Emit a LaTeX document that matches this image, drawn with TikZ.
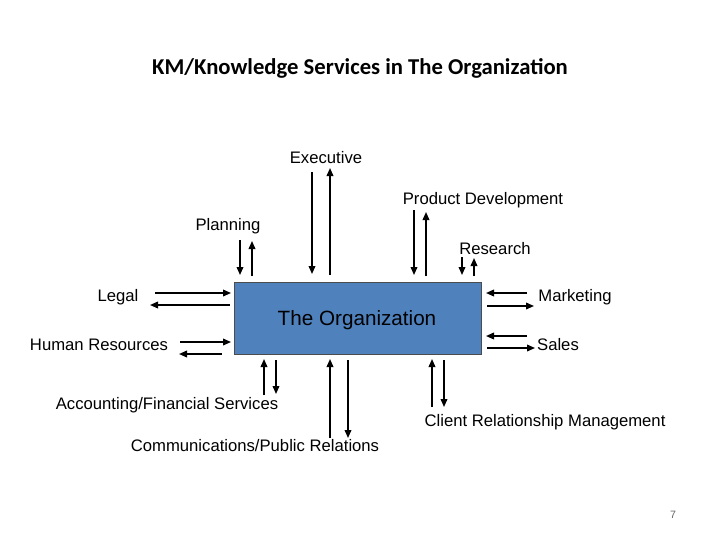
\documentclass[tikz,border=0pt]{standalone}
\usepackage{fontspec}
\setmainfont{Liberation Sans}
\newfontfamily\titlefont{Carlito}
\usetikzlibrary{arrows.meta}
\begin{document}
\begin{tikzpicture}[x=0.75pt,y=-0.75pt,
  lbl/.style={font=\fontsize{12.5}{14}\selectfont, inner sep=0pt},
  arr/.style={line width=1.1pt,-{Triangle[length=6pt,width=5pt]}}]
\useasboundingbox (0,0) rectangle (720,540);
\node[font=\titlefont\bfseries\fontsize{17}{20}\selectfont] (title) at (360,68) {KM/Knowledge Services in The Organization};
\node[draw=black!70,fill={rgb,255:red,79;green,129;blue,189},minimum width=247*0.75pt,minimum height=72*0.75pt,line width=0.8pt,anchor=north west] (org) at (234,282) {};
\node[font=\fontsize{15.5}{18}\selectfont] (orgt) at (357,320) {The Organization};
\node[lbl] (exe) at (326,158) {Executive};
\node[lbl] (pd) at (483,200) {Product Development};
\node[lbl] (pl) at (228,226) {Planning};
\node[lbl] (re) at (495,249) {Research};
\node[lbl] (le) at (118,297) {Legal};
\node[lbl] (hr) at (99,345) {Human Resources};
\node[lbl] (mk) at (575,297) {Marketing};
\node[lbl] (sa) at (558,345) {Sales};
\node[lbl] (ac) at (167,405) {Accounting/Financial Services};
\node[lbl] (cm) at (255,446) {Communications/Public Relations};
\node[lbl] (cr) at (545,422) {Client Relationship Management};
\node[font=\fontsize{8}{9}\selectfont,text=black!60] (pg) at (673,515) {7};
% top
\draw[arr] (240,240) -- (240,275); \draw[arr] (252,276) -- (252,241);
\draw[arr] (312,172) -- (312,274); \draw[arr] (330,275) -- (330,168);
\draw[arr] (414,210) -- (414,275); \draw[arr] (426,276) -- (426,212);
\draw[arr] (462,257) -- (462,275); \draw[arr] (474,276) -- (474,258);
% left
\draw[arr] (155,293) -- (231,293); \draw[arr] (230,305) -- (150,305);
\draw[arr] (180,342) -- (231,342); \draw[arr] (222,354) -- (179,354);
% right
\draw[arr] (527,293) -- (486,293); \draw[arr] (487,306) -- (534,306);
\draw[arr] (527,336) -- (486,336); \draw[arr] (487,348) -- (535,348);
% bottom
\draw[arr] (264,395) -- (264,359); \draw[arr] (276,360) -- (276,394);
\draw[arr] (330,438) -- (330,359); \draw[arr] (348,360) -- (348,438);
\draw[arr] (432,407) -- (432,359); \draw[arr] (444,360) -- (444,407);
\end{tikzpicture}
\end{document}
